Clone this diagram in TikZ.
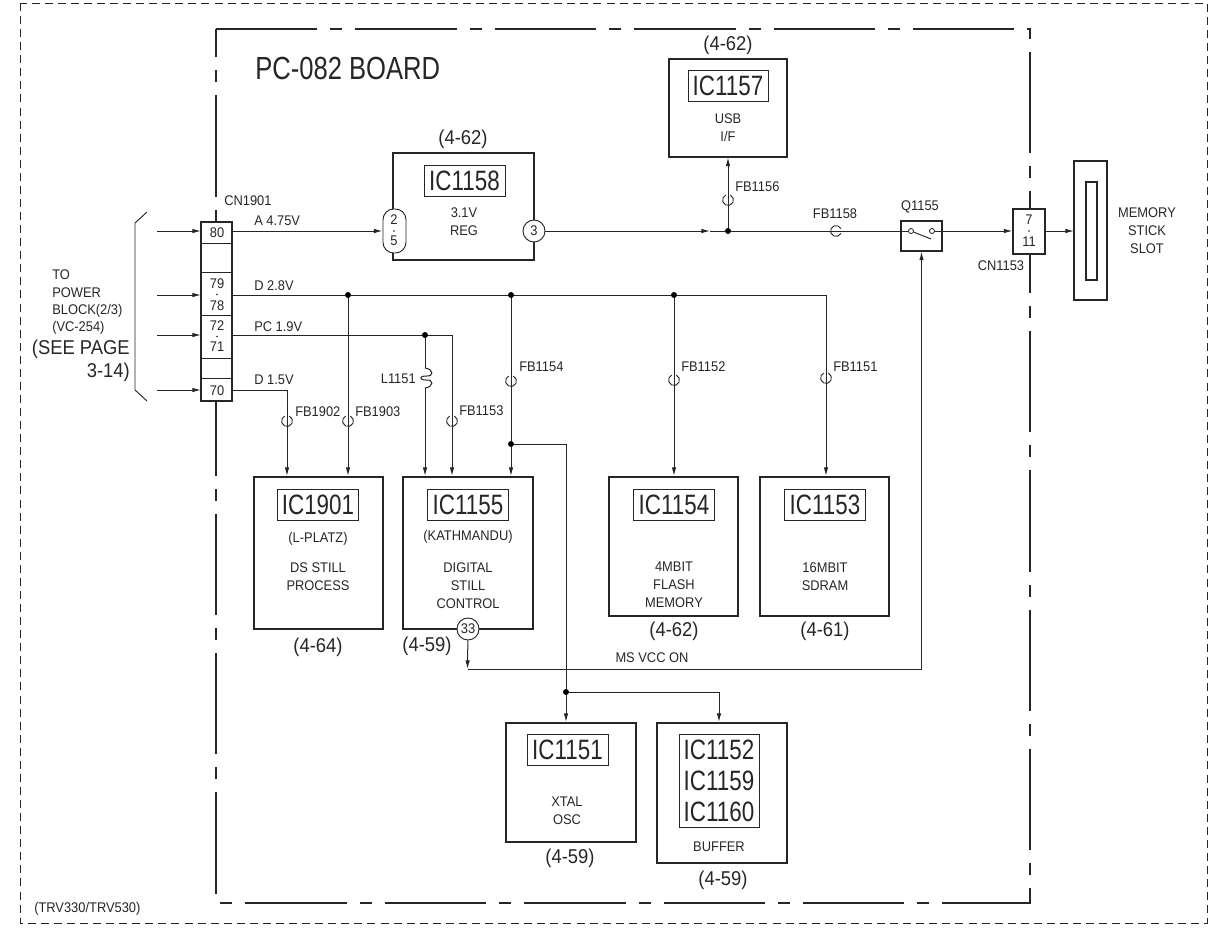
\documentclass[tikz,border=0pt]{standalone}
\usepackage{fontspec}
\setmainfont{Liberation Sans}[FakeStretch=0.92]
\newfontfamily\tagfont{Liberation Sans}[FakeStretch=0.8]
\usetikzlibrary{arrows.meta}
\definecolor{ink}{HTML}{262626}
\tikzset{
    lbl/.style={inner sep=0pt, text=ink, font=\fontsize{10.5}{13.5}\selectfont},
    sheet/.style={inner sep=0pt, text=ink, font=\fontsize{15}{18}\selectfont},
    wsize/.style n args={2}{minimum width=#1*0.75pt, minimum height=#2*0.75pt},
    icbox/.style={draw=ink, line width=1.5pt, inner sep=0pt},
    ictag/.style={draw=ink, line width=0.7pt, fill=white, inner sep=0pt, text=ink, align=center, font=\tagfont\fontsize{21}{23.25}\selectfont},
    conn/.style={draw=ink, line width=0.8pt, fill=white, inner sep=0pt},
    pinc/.style={circle, draw=ink, line width=0.7pt, fill=white, inner sep=0pt, minimum size=16.5pt, text=ink, font=\fontsize{10.5}{12}\selectfont},
    pinr/.style={rounded corners=8pt, draw=ink, line width=0.7pt, fill=white, inner sep=0pt},
    jdot/.style={circle, fill=black, inner sep=0pt, minimum size=4.5pt},
    wire/.style={draw=ink, line width=0.75pt},
    >={Latex[length=6.5pt,width=3.4pt]}
}

\begin{document}
\begin{tikzpicture}[x=0.75pt, y=-0.75pt]
\useasboundingbox (0,0) rectangle (1225,932);

% ===== Frames =====
\draw[ink, line width=0.6pt, dash pattern=on 6pt off 3.8pt] (20,3) rectangle (1207,923);
\draw[ink, line width=1.5pt, dash pattern=on 76.05pt off 9.75pt on 9pt off 9.75pt] (216,29) -- (1029.5,29) -- (1029.5,902.5) -- (216,902.5) -- cycle;
\node[anchor=west, inner sep=0pt, text=ink, font=\tagfont\fontsize{24}{28}\selectfont] (title) at (255,68) {PC-082 BOARD};
\node[lbl, anchor=west] (model) at (34,909) {(TRV330/TRV530)};

% ===== Left side =====
\draw[ink, line width=0.7pt] (147,212) -- (135,223) -- (135,390) -- (147,401);
\node[lbl, anchor=west] (src1) at (52,275) {TO};
\node[lbl, anchor=west] (src2) at (52,293) {POWER};
\node[lbl, anchor=west] (src3) at (52,311) {BLOCK(2/3)};
\node[lbl, anchor=west] (src4) at (52,328) {(VC-254)};
\node[sheet, anchor=east] (src5) at (130,349) {(SEE PAGE};
\node[sheet, anchor=east] (src6) at (130,372) {3-14)};

% ===== Connectors =====
\node[conn, wsize={31}{179}] (cn1901) at (216.5,311.5) {};
\foreach \dy in {243,272,315,358,378}
    \draw[ink, line width=0.6pt] (201,\dy) -- (232,\dy);
\node[lbl] (n80) at (217,233) {80};
\node[lbl] (n79) at (217,284) {79};
\node[lbl] (n78) at (217,306) {78};
\node[lbl] (n72) at (217,326) {72};
\node[lbl] (n71) at (217,347) {71};
\node[lbl] (n70) at (217,391) {70};
\fill[ink] (217,294.5) circle (0.6pt) (217,336.5) circle (0.6pt);
\node[lbl, anchor=west] (cnl1) at (224,201) {CN1901};

\node[conn, wsize={32}{45}] (cn1153) at (1029,231.5) {};
\node[lbl] (n7) at (1029,220) {7};
\node[lbl] (n11) at (1029,242) {11};
\fill[ink] (1029,231) circle (0.6pt);
\node[lbl] (cnl2) at (1001,266) {CN1153};

\draw[ink, line width=0.8pt] (1074,161) rectangle (1107,300);
\node[conn, wsize={11}{98}] (slot) at (1091.5,231) {};
\node[lbl, align=center] (slotl) at (1147,231) {MEMORY\\STICK\\SLOT};

% ===== ICs =====
\node[icbox, wsize={141}{107}] (ic1158) at (463.5,206.5) {};
\node[ictag, wsize={81}{31}] (t1158) at (464.5,180.5) {IC1158};
\node[lbl, align=center] (c1158) at (464,222) {3.1V\\REG};
\node[sheet] (p1158) at (463,139) {(4-62)};
\node[pinr, wsize={23}{44}] (p25) at (394.5,231) {};
\node[lbl] (n2) at (394,220) {2};
\node[lbl] (n5) at (394,241) {5};
\fill[ink] (394,231) circle (0.6pt);
\node[pinc] (p3) at (534,231) {3};

\node[icbox, wsize={118}{98}] (ic1157) at (728,107.5) {};
\node[ictag, wsize={80}{31}] (t1157) at (728,86) {IC1157};
\node[lbl, align=center] (c1157) at (728,127.5) {USB\\I/F};
\node[sheet] (p1157) at (728,45) {(4-62)};

\node[icbox, wsize={129}{152}] (ic1901) at (318.5,553) {};
\node[ictag, wsize={81}{31}] (t1901) at (318,505) {IC1901};
\node[lbl] (m1901) at (318,539) {(L-PLATZ)};
\node[lbl, align=center] (c1901) at (318,576.5) {DS STILL\\PROCESS};
\node[sheet] (p1901) at (318,647) {(4-64)};

\node[icbox, wsize={130}{152}] (ic1155) at (468,553) {};
\node[ictag, wsize={81}{31}] (t1155) at (468,505) {IC1155};
\node[lbl] (m1155) at (468,537) {(KATHMANDU)};
\node[lbl, align=center] (c1155) at (468,585.5) {DIGITAL\\STILL\\CONTROL};
\node[sheet] (p1155) at (427,646) {(4-59)};
\node[pinc] (p33) at (468,629) {33};

\node[icbox, wsize={129}{139}] (ic1154) at (673.5,546.5) {};
\node[ictag, wsize={81}{31}] (t1154) at (674,505) {IC1154};
\node[lbl, align=center] (c1154) at (674,585) {4MBIT\\FLASH\\MEMORY};
\node[sheet] (p1154) at (674,631) {(4-62)};

\node[icbox, wsize={129}{139}] (ic1153) at (824.5,546.5) {};
\node[ictag, wsize={81}{31}] (t1153) at (825,505) {IC1153};
\node[lbl, align=center] (c1153) at (825,576.5) {16MBIT\\SDRAM};
\node[sheet] (p1153) at (825,631) {(4-61)};

\node[icbox, wsize={130}{119}] (ic1151) at (571,782.5) {};
\node[ictag, wsize={81}{31}] (t1151) at (567.5,749.5) {IC1151};
\node[lbl, align=center] (c1151) at (567,810.5) {XTAL\\OSC};
\node[sheet] (p1151) at (570,858) {(4-59)};

\node[icbox, wsize={130}{140}] (ic1152) at (722,793) {};
\node[ictag, wsize={80}{93}] (t1152) at (719,780.5) {IC1152\\IC1159\\IC1160};
\node[lbl] (c1152) at (719,847) {BUFFER};
\node[sheet] (p1152) at (723,880) {(4-59)};

% ===== Switch =====
\node[conn, wsize={41}{30}] (q1155) at (921.5,236) {};
\node[lbl] (ql) at (920,207) {Q1155};
\node[circle, draw=ink, line width=0.6pt, fill=white, inner sep=0pt, minimum size=3.8pt] (swa) at (911,231) {};
\node[circle, draw=ink, line width=0.6pt, fill=white, inner sep=0pt, minimum size=3.8pt] (swb) at (932,231) {};
\draw[ink, line width=0.7pt] (swa) -- (931,239);

% ===== Joints =====
\node[jdot] (j3v) at (728,231) {};
\node[jdot] (j28a) at (348,295) {};
\node[jdot] (j28b) at (511,295) {};
\node[jdot] (j28c) at (674,295) {};
\node[jdot] (j19) at (425,335) {};
\node[jdot] (jclk) at (511,444) {};
\node[jdot] (jbuf) at (566,692) {};
\coordinate (reg) at (710,231);
\coordinate (d28) at (826,295);
\coordinate (pc) at (452,335);
\coordinate (d15) at (287,390);
\coordinate (clk) at (566,444);
\coordinate (buf) at (719,692);
\coordinate (ms) at (467.5,669);
\coordinate (la) at (425,368);
\coordinate (lb) at (425,388);

% ===== Wires =====
\foreach \iy in {231,295,335,390}
    \draw[wire, ->] (157,\iy) -- (201,\iy);
\draw[wire, ->] (cn1901.east |- p25) -- (p25.west);
\draw[wire, ->] (p3) -- (reg);
\draw[wire] (reg) -- (j3v);
\draw[wire] (j3v) -- (swa);
\draw[wire, ->] (j3v) -- (ic1157.south -| j3v);
\draw[wire, ->] (swb) -- (cn1153.west |- swb);
\draw[wire, ->] (cn1153.east |- swb) -- (1074,231);
\draw[wire] (cn1901.east |- j28a) -- (j28a) -- (j28b) -- (j28c) -- (d28);
\draw[wire, ->] (d28) -- (ic1153.north -| d28);
\draw[wire, ->] (j28a) -- (ic1901.north -| j28a);
\draw[wire] (j28b) -- (jclk);
\draw[wire, ->] (jclk) -- (ic1155.north -| jclk);
\draw[wire, ->] (j28c) -- (ic1154.north -| j28c);
\draw[wire] (cn1901.east |- j19) -- (j19) -- (pc);
\draw[wire, ->] (pc) -- (ic1155.north -| pc);
\draw[wire] (j19) -- (la);
\draw[wire, ->] (lb) -- (ic1155.north -| lb);
\draw[wire] (cn1901.east |- d15) -- (d15);
\draw[wire, ->] (d15) -- (ic1901.north -| d15);
\draw[wire] (jclk) -- (clk) -- (jbuf);
\draw[wire, ->] (jbuf) -- (ic1151.north -| jbuf);
\draw[wire] (jbuf) -- (buf);
\draw[wire, ->] (buf) -- (ic1152.north -| buf);
\draw[wire, ->] (p33) -- (ms);
\draw[wire, ->] (ms) -| (q1155.south);
\draw[wire] (la) .. controls (434,369) and (434,377) .. (426,376) .. controls (419,376) and (419,380) .. (426,380) .. controls (434,379) and (434,387) .. (lb);

% ===== Ferrite beads =====
\foreach \fx/\fy in {728/200,287/421,348/421,452/421,511/381,674/380,826/378}
    \draw[ink, line width=0.7pt] (\fx,\fy) ++(65:4.1pt) arc[start angle=65, end angle=-245, radius=4.1pt];
\draw[ink, line width=0.7pt] (836,231) ++(-25:4.1pt) arc[start angle=-25, end angle=-335, radius=4.1pt];

% ===== Wire labels =====
\node[lbl, anchor=west] (w1) at (254,220.5) {A 4.75V};
\node[lbl, anchor=west] (w2) at (254,286) {D 2.8V};
\node[lbl, anchor=west] (w3) at (254,327) {PC 1.9V};
\node[lbl, anchor=west] (w4) at (254,380) {D 1.5V};
\node[lbl] (w5) at (652,658) {MS VCC ON};
\node[lbl, anchor=east] (fl1) at (416,379) {L1151};
\node[lbl, anchor=west] (fl2) at (295,412) {FB1902};
\node[lbl, anchor=west] (fl3) at (355,412) {FB1903};
\node[lbl, anchor=west] (fl4) at (459,411) {FB1153};
\node[lbl, anchor=west] (fl5) at (519,367) {FB1154};
\node[lbl, anchor=west] (fl6) at (681,367) {FB1152};
\node[lbl, anchor=west] (fl7) at (833,367) {FB1151};
\node[lbl, anchor=west] (fl8) at (735,187) {FB1156};
\node[lbl] (fl9) at (835,214) {FB1158};

\end{tikzpicture}
\end{document}
